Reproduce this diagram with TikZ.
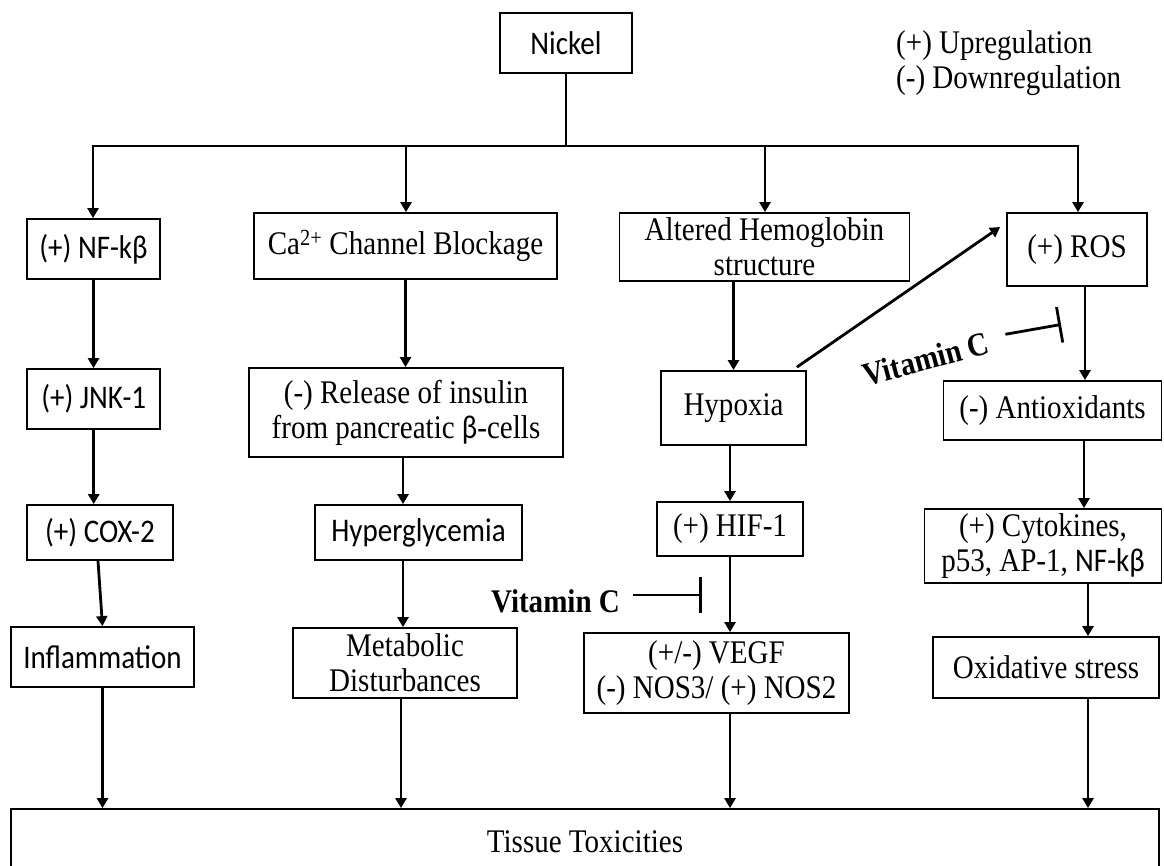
\documentclass[tikz,border=0pt]{standalone}
\usepackage{fontspec}
\setmainfont{Liberation Serif}[FakeStretch=0.88]
\newfontfamily\calib{Carlito}[FakeStretch=0.88]
\usetikzlibrary{arrows.meta,calc}
\newcommand\fsz{\fontsize{33}{35}\selectfont}
\begin{document}
\begin{tikzpicture}[x=1pt,y=-1pt,
  box/.style={draw, line width=1.8pt, inner sep=0pt, align=center, font=\fsz},
  arr/.style={line width=2.8pt, -{Triangle[width=11pt,length=10pt]}},
  ln/.style={line width=2.8pt},
  inh/.style={line width=2.8pt, -{Bar[width=36pt]}},
  lbl/.style={inner sep=0pt, font=\fsz\bfseries},
]
\useasboundingbox (0,0) rectangle (1164,865);
% nodes
\node[box, minimum width=132pt, minimum height=60pt] (nickel) at (566,43) {\calib Nickel};
\node[box, minimum width=133pt, minimum height=60pt] (nf) at (93.5,249) {\calib (+) NF-kβ};
\node[box, minimum width=303pt, minimum height=66pt] (ca) at (405.5,246) {Ca\textsuperscript{2+} Channel Blockage};
\node[box, minimum width=290pt, minimum height=68pt] (hemo) at (764.5,247) {Altered Hemoglobin\\structure};
\node[box, minimum width=140pt, minimum height=73pt] (ros) at (1077,249.5) {(+) ROS};
\node[box, minimum width=133pt, minimum height=60pt] (jnk) at (93.7,399) {\calib (+) JNK-1};
\node[box, minimum width=314pt, minimum height=89pt] (rel) at (406,412.5) {(-) Release of insulin\\from pancreatic {\calib β}-cells};
\node[box, minimum width=145pt, minimum height=74pt] (hypo) at (733.5,408) {Hypoxia};
\node[box, minimum width=218pt, minimum height=59pt] (antiox) at (1052.5,410.5) {(-) Antioxidants};
\node[box, minimum width=146pt, minimum height=55pt] (cox) at (100,532.5) {\calib (+) COX-2};
\node[box, minimum width=207pt, minimum height=55pt] (hyper) at (418.5,532.5) {\calib Hyperglycemia};
\node[box, minimum width=146pt, minimum height=54pt] (hif) at (730,529) {(+) HIF-1};
\node[box, minimum width=237pt, minimum height=74pt] (cyto) at (1043,546) {(+) Cytokines,\\p53, AP-1, {\calib NF-kβ}};
\node[box, minimum width=183pt, minimum height=60pt] (inflam) at (102.5,657) {\calib Inflammation};
\node[box, minimum width=224pt, minimum height=70pt] (metab) at (405,663) {Metabolic\\Disturbances};
\node[box, minimum width=265pt, minimum height=80pt] (vegf) at (716.5,673) {(+/-) VEGF\\(-) NOS3/ (+) NOS2};
\node[box, minimum width=226pt, minimum height=61pt] (oxid) at (1046,667.5) {Oxidative stress};
\node[box, minimum width=1148pt, minimum height=66pt] (tissue) at (585,842) {Tissue Toxicities};
% legend
\node[anchor=base west, inner sep=0pt, font=\fsz] (leg1) at (896,53) {(+) Upregulation};
\node[anchor=base west, inner sep=0pt, font=\fsz] (leg2) at (896,88) {(-) Downregulation};
% vitamin C labels
\node[lbl, rotate=15] (vc1) at (926,359) {Vitamin C};
\node[lbl] (vc2) at (555.5,601) {Vitamin C};
% helper coordinates
\coordinate (b1) at (93,146);
\coordinate (b2) at (406,146);
\coordinate (b3) at (765,146);
\coordinate (b4) at (1078,146);
\coordinate (c2) at (403,0);
\coordinate (c4) at (1085,0);
\coordinate (c4b) at (1088,0);
\coordinate (vb1) at (1061,324.5);
\coordinate (vb2) at (702,595);
% bus
\draw[ln] (nickel.south) -- (nickel.south |- b1);
\draw[ln] (b2) -- (b3);
\draw[arr] (b2) -- (b1) -- (b1 |- nf.north);
\draw[arr] (b3) -- (b4) -- (b4 |- ros.north);
\draw[arr] (b2) -- (b2 |- ca.north);
\draw[arr] (b3) -- (b3 |- hemo.north);
% column 1
\draw[arr] (nf.south) -- (nf.south |- jnk.north);
\draw[arr] (jnk.south) -- (jnk.south |- cox.north);
\draw[arr] ($(cox.south)+(-2,0)$) -- (inflam.north);
\draw[arr] (inflam.south) -- (inflam.south |- tissue.north);
% column 2
\draw[arr] (ca.south) -- (ca.south |- rel.north);
\draw[arr] (rel.south -| c2) -- (hyper.north -| c2);
\draw[arr] (hyper.south -| c2) -- (metab.north -| c2);
\draw[arr] ($(metab.south -| c2)+(-2,0)$) -- ($(tissue.north -| c2)+(-2,0)$);
% column 3
\draw[arr] (hemo.south -| hypo.north) -- (hypo.north);
\draw[arr] (hypo.south -| hif.north) -- (hif.north);
\draw[arr] (hif.south) -- (hif.south |- vegf.north);
\draw[arr] (vegf.south -| hif.south) -- (tissue.north -| hif.south);
\draw[arr] ($(hypo.north east)+(-10,-3)$) -- ($(ros.west)+(-6,-22.5)$);
% column 4
\draw[arr] (ros.south -| c4) -- (antiox.north -| c4);
\draw[arr] ($(antiox.south -| c4)+(-1,0)$) -- ($(cyto.north -| c4)+(-1,0)$);
\draw[arr] (cyto.south -| c4b) -- (oxid.north -| c4b);
\draw[arr] (oxid.south -| c4b) -- (tissue.north -| c4b);
% inhibitions
\draw[inh] ($(vc1.east)+(17,-8)$) -- (vb1);
\draw[inh] ($(vc2.east)+(13,-6)$) -- (vb2);
\end{tikzpicture}
\end{document}
